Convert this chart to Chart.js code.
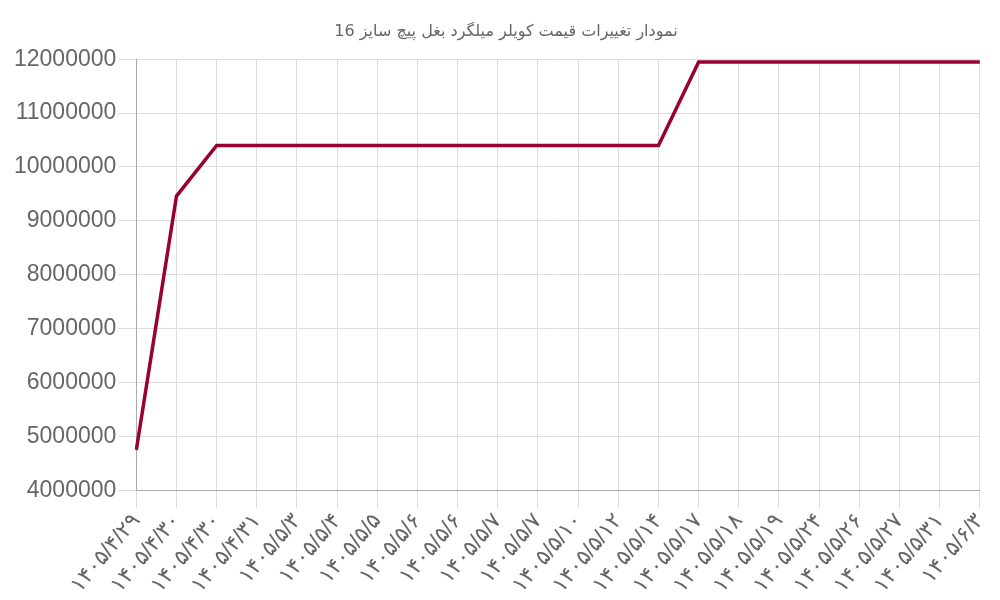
<!DOCTYPE html>
<html>
<head>
<meta charset="utf-8">
<script src="https://cdn.jsdelivr.net/npm/chart.js@4.4.1/dist/chart.umd.min.js"></script>
<style>
  html, body { margin: 0; padding: 0; background: #fff; }
  #wrap { width: 1000px; height: 600px; }
</style>
</head>
<body>
<div id="wrap"><canvas id="price-chart"></canvas></div>
<script>
const chartTitle = 'نمودار تغییرات قیمت کویلر میلگرد بغل پیچ سایز 16';

const dates = [
    '۱۴۰۵/۴/۲۹', '۱۴۰۵/۴/۳۰', '۱۴۰۵/۴/۳۰', '۱۴۰۵/۴/۳۱', '۱۴۰۵/۵/۳',
    '۱۴۰۵/۵/۴', '۱۴۰۵/۵/۵', '۱۴۰۵/۵/۶', '۱۴۰۵/۵/۶', '۱۴۰۵/۵/۷',
    '۱۴۰۵/۵/۷', '۱۴۰۵/۵/۱۰', '۱۴۰۵/۵/۱۲', '۱۴۰۵/۵/۱۴', '۱۴۰۵/۵/۱۷',
    '۱۴۰۵/۵/۱۸', '۱۴۰۵/۵/۱۹', '۱۴۰۵/۵/۲۴', '۱۴۰۵/۵/۲۶', '۱۴۰۵/۵/۲۷',
    '۱۴۰۵/۵/۳۱', '۱۴۰۵/۶/۳'
];

const prices = [
    4750000, 9460000, 10400000, 10400000, 10400000,
    10400000, 10400000, 10400000, 10400000, 10400000,
    10400000, 10400000, 10400000, 10400000, 11950000,
    11950000, 11950000, 11950000, 11950000, 11950000,
    11950000, 11950000
];

const yMin = 4000000;
const yMax = 12000000;
const yStep = 1000000;

const ctx = document.getElementById('price-chart').getContext('2d');

new Chart(ctx, {
    type: 'line',
    data: {
        labels: dates,
        datasets: [{
            label: 'قیمت',
            data: prices,
            borderColor: '#990033',
            backgroundColor: '#990033',
            borderWidth: 3.5,
            pointRadius: 0,
            tension: 0,
            fill: false
        }]
    },
    options: {
        responsive: true,
        maintainAspectRatio: false,
        animation: false,
        layout: { padding: { left: 12, right: 0, top: 0, bottom: 2 } },
        plugins: {
            legend: { display: false },
            tooltip: { enabled: false },
            title: {
                display: true,
                text: chartTitle,
                color: '#666',
                font: { family: 'DejaVu Sans', size: 16, weight: 'normal' },
                padding: { top: 22, bottom: 18 }
            }
        },
        scales: {
            x: {
                grid: { color: '#dddddd', tickLength: 18 },
                border: { color: '#aaa' },
                ticks: {
                    color: '#666',
                    font: { family: 'Liberation Sans, DejaVu Sans', size: 22 },
                    maxRotation: 50,
                    minRotation: 50,
                    autoSkip: false,
                    padding: 0
                }
            },
            y: {
                min: yMin,
                max: yMax,
                grid: { color: '#dddddd', tickLength: 18 },
                border: { color: '#aaa' },
                ticks: {
                    stepSize: yStep,
                    color: '#666',
                    font: { family: 'Liberation Sans', size: 23 },
                    padding: 2,
                    callback: value => String(value)
                }
            }
        }
    }
});
</script>
</body>
</html>
